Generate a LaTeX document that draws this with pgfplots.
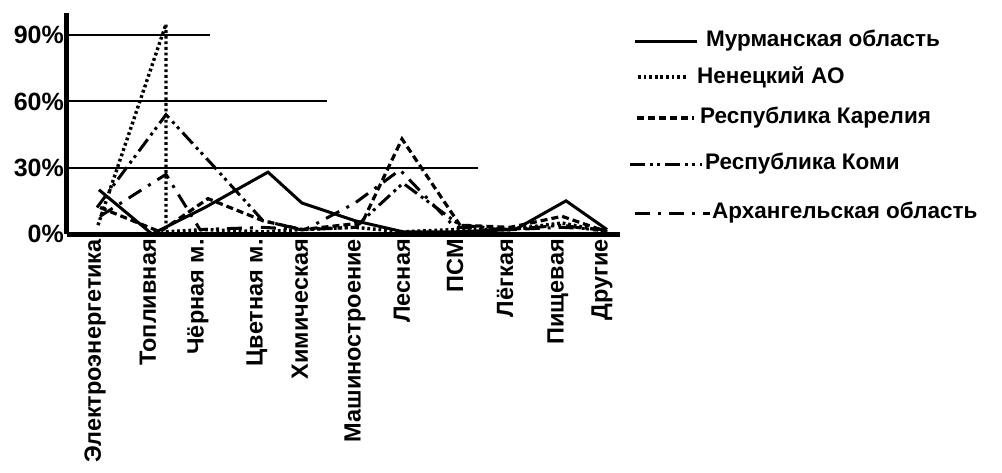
\documentclass[border=0pt]{standalone}
\usepackage{pgfplots}
\pgfplotsset{compat=1.18}
\usepackage{fontspec}
\setmainfont{Liberation Sans}

\tikzset{
  murm/.style={line width=3pt},
  nen/.style={line width=3.4pt, dash pattern=on 2.8pt off 2.8pt},
  kar/.style={line width=3.2pt, dash pattern=on 7pt off 4pt},
  komi/.style={line width=3pt, dash pattern=on 15pt off 5pt on 3pt off 4pt on 3pt off 5pt},
  arh/.style={line width=3pt, dash pattern=on 15pt off 8pt on 3pt off 8pt},
}

\begin{document}
\begin{tikzpicture}[x=1pt,y=1pt]
\useasboundingbox (-67,-238) rectangle (935,234);
\begin{axis}[
    anchor=south west,
    scale only axis, width=553pt, height=221pt,
    xmin=67, xmax=620, ymin=0, ymax=100,
    axis lines*=left,
    axis line style={line width=5pt},
    major tick length=0pt,
    font=\bfseries,
    ytick={0,30,60,90},
    yticklabels={0\%,30\%,60\%,90\%},
    y tick label style={font=\fontsize{25}{29}\selectfont\bfseries, inner sep=3pt},
    xtick={95,148,198,257,300,355,402,455,505,558,602},
    xticklabels={Электроэнергетика,Топливная,Чёрная м.,Цветная м.,Химическая,Машиностроение,Лесная,ПСМ,Лёгкая,Пищевая,Другие},
    x tick label style={rotate=90, anchor=east, inner sep=5pt,
                        font=\fontsize{23.5}{27}\selectfont\bfseries},
    clip=false,
]
% partial horizontal lines
\draw[line width=2pt] (axis cs:67,90) -- (axis cs:210,90);
\draw[line width=2pt] (axis cs:67,60) -- (axis cs:327,60);
\draw[line width=2pt] (axis cs:67,30) -- (axis cs:478,30);

% Мурманская область
\addplot[murm] coordinates {
  (99,20) (152,0) (205,12) (268,28) (302,14) (355,6) (403,1) (455,1) (515,2) (566,15) (607,2)
};
% Ненецкий АО
\addplot[nen] coordinates {
  (98,4) (166,95) (166,1) (205,2) (263,1) (302,2) (355,3) (403,1) (455,2) (510,2) (562,5) (607,1)
};
% Республика Карелия
\addplot[kar] coordinates {
  (100,12) (160,1) (208,16) (263,6) (302,2) (362,5) (402,43) (460,4) (510,3) (562,8) (607,1)
};
% Республика Коми
\addplot[komi] coordinates {
  (97,12) (166,54) (213,31) (263,6) (302,2) (355,3) (403,23) (460,4) (510,2) (562,4) (607,1)
};
% Архангельская область
\addplot[arh] coordinates {
  (100,8) (166,27) (200,2) (263,3) (305,2) (355,14) (400,29) (455,3) (510,2) (562,3) (607,2)
};
\end{axis}

% legend
\begin{scope}[font=\fontsize{22.5}{27}\selectfont\bfseries]
\draw[murm] (568,193) -- (630,193);
\node[anchor=west, inner sep=0] at (639,193) {Мурманская область};
\draw[nen] (571,157) -- (619,157);
\node[anchor=west, inner sep=0] at (630,157) {Ненецкий АО};
\draw[kar] (570,116) -- (627,116);
\node[anchor=west, inner sep=0] at (633,116) {Республика Карелия};
\draw[komi] (563,70) -- (635,70);
\node[anchor=west, inner sep=0] at (638,70) {Республика Коми};
\draw[arh] (568,21) -- (643,21);
\node[anchor=west, inner sep=0] at (645,21) {Архангельская область};
\end{scope}
\end{tikzpicture}
\end{document}
